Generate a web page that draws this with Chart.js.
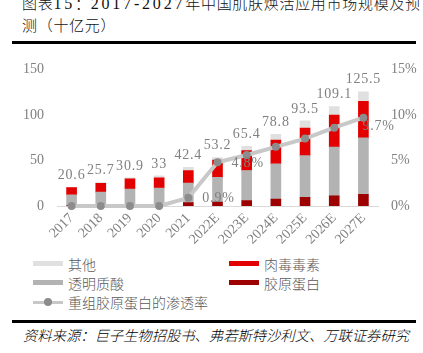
<!DOCTYPE html>
<html lang="zh">
<head>
<meta charset="utf-8">
<script src="https://cdn.jsdelivr.net/npm/chart.js@4.4.1/dist/chart.umd.min.js"></script>
<style>
  html, body { margin: 0; padding: 0; background: #fff; }
  body {
    width: 423px; height: 353px; position: relative; overflow: hidden;
    font-family: 'Liberation Serif', 'Noto Sans CJK SC', serif;
  }
  .title {
    position: absolute; left: 22px; top: -7px;
    font-size: 15px; font-weight: 300; line-height: 22px; letter-spacing: 0.7px; color: #111;
    white-space: nowrap;
  }
  .title .num { font-family: 'Liberation Serif', serif; font-weight: 400; font-size: 16px; letter-spacing: 2.8px; }
  .rule-top    { position: absolute; left: 12px; width: 404px; top: 41px;  height: 3px; background: #000; }
  .rule-bottom { position: absolute; left: 12px; width: 404px; top: 320px; height: 3px; background: #000; }
  .chart-box { position: absolute; left: 0; top: 48px; width: 423px; height: 200px; }
  .legend {
    position: absolute; left: 33px; top: 254px;
    display: grid; grid-template-columns: 196px 170px;
  }
  .leg-item { display: flex; align-items: center; height: 19px; font-size: 14px; font-weight: 300; color: #595959; white-space: nowrap; }
  .leg-sw   { width: 30px; height: 5px; margin-right: 5px; flex: none; }
  .leg-line { width: 30px; height: 10px; margin-right: 5px; position: relative; flex: none; }
  .leg-line::before { content: ''; position: absolute; left: 0; right: 0; top: 4px; height: 3px; background: #c8c8c8; }
  .leg-line::after  { content: ''; position: absolute; left: 11px; top: 1px; width: 8px; height: 8px; border-radius: 50%; background: #8c8c8c; }
  .source {
    position: absolute; left: 23px; top: 325px;
    font-family: 'Noto Sans CJK SC', sans-serif;
    font-size: 14.3px; font-weight: 300; line-height: 20px; font-style: italic; color: #000; white-space: nowrap;
  }
</style>
</head>
<body>
<div class="title">图表<span class="num">15</span>：<span class="num">2017-2027</span>年中国肌肤焕活应用市场规模及预<br>测（十亿元）</div>
<div class="rule-top"></div>
<div class="chart-box"><canvas id="marketChart"></canvas></div>
<div class="legend" id="legend"></div>
<div class="rule-bottom"></div>
<div class="source">资料来源：巨子生物招股书、弗若斯特沙利文、万联证券研究</div>

<script>
// ── DATA ───────────────────────────────────────────────────────
const years      = ['2017', '2018', '2019', '2020', '2021', '2022E', '2023E', '2024E', '2025E', '2026E', '2027E'];
const totals     = [20.6, 25.7, 30.9, 33, 42.4, 53.2, 65.4, 78.8, 93.5, 109.1, 125.5];
const collagen   = [0.5, 0.5, 0.6, 0.7, 3.7, 4.4, 6.0, 7.5, 9.5, 11.2, 12.9];       // 胶原蛋白
const hyaluronic = [11.7, 14.8, 18.1, 19.0, 21.5, 27.0, 33.0, 38.8, 45.9, 53.4, 61.9]; // 透明质酸
const botox      = [8.0, 9.6, 11.0, 11.3, 13.8, 19.1, 21.8, 26.0, 30.3, 35.3, 40.2];   // 肉毒毒素
const others     = [0.4, 0.8, 1.2, 2.0, 3.4, 2.7, 4.6, 6.5, 7.8, 9.2, 10.5];         // 其他
const penetration = [0, 0, 0, 0, 0.9, 4.8, 5.6, 6.5, 7.4, 8.6, 9.7];                 // 重组胶原蛋白的渗透率 (%)
const leftTicks  = [0, 50, 100, 150];
const rightTicks = [0, 5, 10, 15];

const COLORS = {
  others: '#e0e0e0', hyaluronic: '#b3b3b3', botox: '#e20000', collagen: '#9c0000',
  line: '#c8c8c8', point: '#8c8c8c', text: '#808080', axis: '#d9d9d9',
};

// only these percentage points carry a label: index -> placement
const pctLabels = { 4: 'right', 5: 'right', 10: 'below' };

const FONT = "'Liberation Serif', 'Noto Sans CJK SC', serif";
Chart.defaults.font.family = FONT;
Chart.defaults.font.size = 14;
Chart.defaults.color = COLORS.text;

// ── LABEL PLUGIN ───────────────────────────────────────────────
// totals over each stack + a few penetration-rate labels
const valueLabels = {
  id: 'valueLabels',
  afterDatasetsDraw(chart) {
    const ctx = chart.ctx;
    ctx.save();
    ctx.font = `14px ${FONT}`;
    ctx.fillStyle = COLORS.text;
    ctx.letterSpacing = '0.8px';

    const topMeta = chart.getDatasetMeta(3);
    ctx.textAlign = 'center';
    ctx.textBaseline = 'middle';
    totals.forEach((t, i) => {
      const bar = topMeta.data[i];
      ctx.fillText(String(t), bar.x, bar.y - 12);
    });

    const lineMeta = chart.getDatasetMeta(4);
    ctx.textAlign = 'left';
    Object.keys(pctLabels).forEach(k => {
      const i = +k;
      const pt = lineMeta.data[i];
      const txt = penetration[i].toFixed(1) + '%';
      if (pctLabels[k] === 'right') ctx.fillText(txt, pt.x + 14, pt.y + 1);
      else ctx.fillText(txt, pt.x - 1, pt.y + 9);
    });
    ctx.restore();
  },
};

// ── CHART ──────────────────────────────────────────────────────
const barDefaults = { type: 'bar', yAxisID: 'y', stack: 'market', order: 1, borderWidth: 0 };

const ctx = document.getElementById('marketChart').getContext('2d');
const marketChart = new Chart(ctx, {
  data: {
    labels: years,
    datasets: [
      { ...barDefaults, label: '胶原蛋白', data: collagen,   backgroundColor: COLORS.collagen },
      { ...barDefaults, label: '透明质酸', data: hyaluronic, backgroundColor: COLORS.hyaluronic },
      { ...barDefaults, label: '肉毒毒素', data: botox,      backgroundColor: COLORS.botox },
      { ...barDefaults, label: '其他',     data: others,     backgroundColor: COLORS.others },
      {
        type: 'line', label: '重组胶原蛋白的渗透率', data: penetration, yAxisID: 'y1', order: 0,
        borderColor: COLORS.line, borderWidth: 4, tension: 0,
        pointRadius: 4, pointBackgroundColor: COLORS.point, pointBorderWidth: 0,
        clip: false,
      },
    ],
  },
  options: {
    responsive: true,
    maintainAspectRatio: false,
    animation: false,
    layout: { padding: { top: 11, left: 0, right: 0, bottom: 0 } },
    plugins: { legend: { display: false }, tooltip: { enabled: false } },
    datasets: { bar: { barThickness: 10 } },
    scales: {
      x: {
        stacked: true,
        grid: { display: false, drawTicks: false },
        border: { display: true, color: COLORS.axis, width: 1 },
        ticks: { autoSkip: false, minRotation: 45, maxRotation: 45, padding: 4, font: { size: 14 } },
        afterFit: s => { s.height = 42; },
      },
      y: {
        position: 'left', stacked: true, min: 0, max: 150,
        grid: { display: false, drawTicks: false },
        border: { display: false },
        afterBuildTicks: s => { s.ticks = leftTicks.map(v => ({ value: v })); },
        ticks: { padding: 13 },
        afterFit: s => { s.width = 57; },
      },
      y1: {
        position: 'right', min: 0, max: 15,
        grid: { display: false, drawTicks: false },
        border: { display: false },
        afterBuildTicks: s => { s.ticks = rightTicks.map(v => ({ value: v })); },
        ticks: { padding: 13, callback: v => v + '%' },
        afterFit: s => { s.width = 45; },
      },
    },
  },
  plugins: [valueLabels],
});

// ── LEGEND ─────────────────────────────────────────────────────
const legendItems = [
  { label: '其他',     color: COLORS.others },
  { label: '肉毒毒素', color: COLORS.botox },
  { label: '透明质酸', color: COLORS.hyaluronic },
  { label: '胶原蛋白', color: COLORS.collagen },
  { label: '重组胶原蛋白的渗透率', line: true },
];
document.getElementById('legend').innerHTML = legendItems.map(it => `
  <div class="leg-item">
    ${it.line ? '<span class="leg-line"></span>' : `<span class="leg-sw" style="background:${it.color}"></span>`}
    ${it.label}
  </div>`).join('');
</script>
</body>
</html>
